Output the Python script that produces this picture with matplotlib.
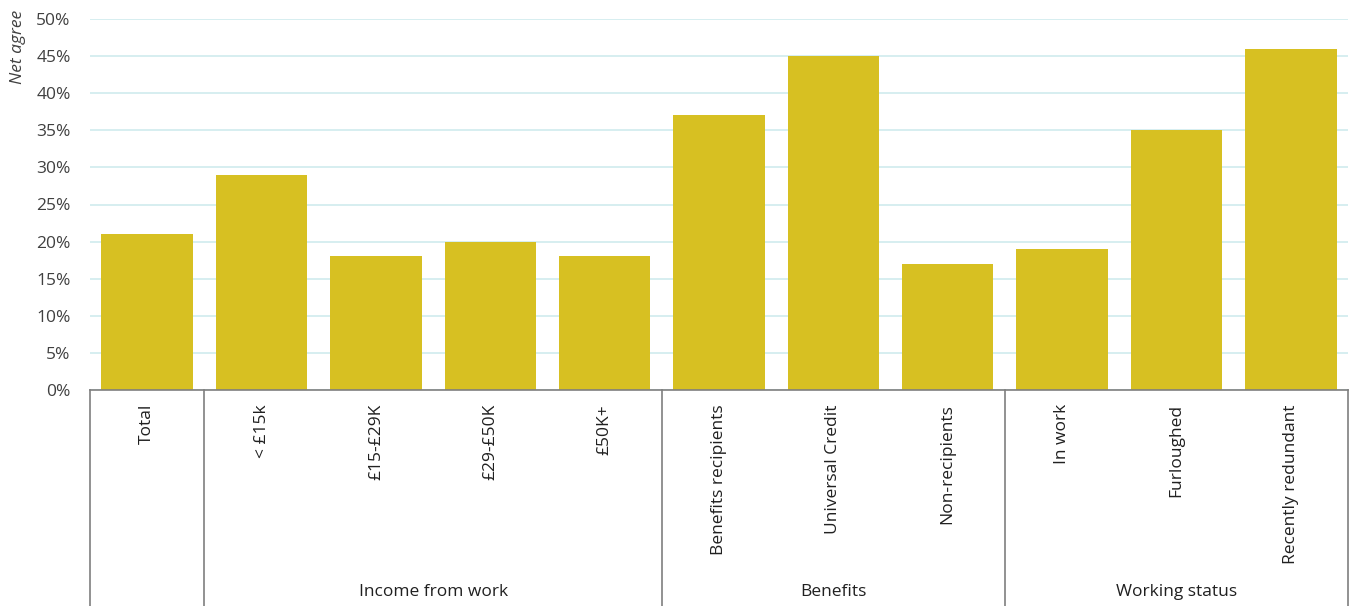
import matplotlib.pyplot as plt
from matplotlib.ticker import PercentFormatter
import matplotlib.transforms as mtransforms

plt.rcParams['font.family'] = ['Open Sans', 'DejaVu Sans']

# --- DATA ---
categories = ["Total", "< £15k", "£15-£29K", "£29-£50K", "£50K+",
              "Benefits recipients", "Universal Credit", "Non-recipients",
              "In work", "Furloughed", "Recently redundant"]
net_agree = [21, 29, 18, 20, 18, 37, 45, 17, 19, 35, 46]

# groups: (label, first index, last index); label "" for the ungrouped Total
groups = [("", 0, 0), ("Income from work", 1, 4),
          ("Benefits", 5, 7), ("Working status", 8, 10)]

BAR_COLOR = "#D7C022"
GRID_COLOR = "#D3EDEF"
LINE_COLOR = "#7F7F7F"
FS = 12.5

fig = plt.figure(figsize=(13.55, 6.06), dpi=100)
W, H = 1355, 606
ax = fig.add_axes([90 / W, (H - 390) / H, (1348 - 90) / W, (390 - 19) / H])

x = list(range(len(categories)))
ax.bar(x, net_agree, width=0.8, color=BAR_COLOR, zorder=3)

ax.set_xlim(-0.5, len(categories) - 0.5)
ax.set_ylim(0, 50)
ax.set_yticks(range(0, 51, 5))
ax.yaxis.set_major_formatter(PercentFormatter(decimals=0))
ax.grid(axis="y", color=GRID_COLOR, linewidth=1.3, zorder=0)
ax.tick_params(axis="y", length=0, labelsize=FS, colors="#404040", pad=14)
ax.tick_params(axis="x", length=0)
ax.set_xticks([])

for side in ["top", "right", "left"]:
    ax.spines[side].set_visible(False)
ax.spines["bottom"].set_color(LINE_COLOR)
ax.spines["bottom"].set_linewidth(1.2)
ax.spines["bottom"].set_zorder(4)

ax.set_ylabel("Net agree", style="italic", fontsize=FS, color="#404040")
ax.yaxis.set_label_coords(-0.051, 0.925)

# category labels, rotated, hanging below the axis
trans = mtransforms.blended_transform_factory(ax.transData, ax.transAxes)
label_top = -(404 - 390) / (390 - 19)
for xi, name in zip(x, categories):
    ax.text(xi, label_top, name, rotation=90, ha="center", va="top",
            fontsize=FS, color="#202020", transform=trans)

# group separators and group names
line_bottom = -(606 - 390) / (390 - 19)
group_y = -(592 - 390) / (390 - 19)
edges = [-0.5] + [last + 0.5 for _, _, last in groups]
for e in edges:
    ax.plot([e, e], [0, line_bottom], color=LINE_COLOR, linewidth=1.2,
            transform=trans, clip_on=False)
for name, first, last in groups:
    if name:
        ax.text((first + last) / 2, group_y, name, ha="center", va="center",
                fontsize=FS, color="#202020", transform=trans)

fig.savefig("out.png", dpi=100)
